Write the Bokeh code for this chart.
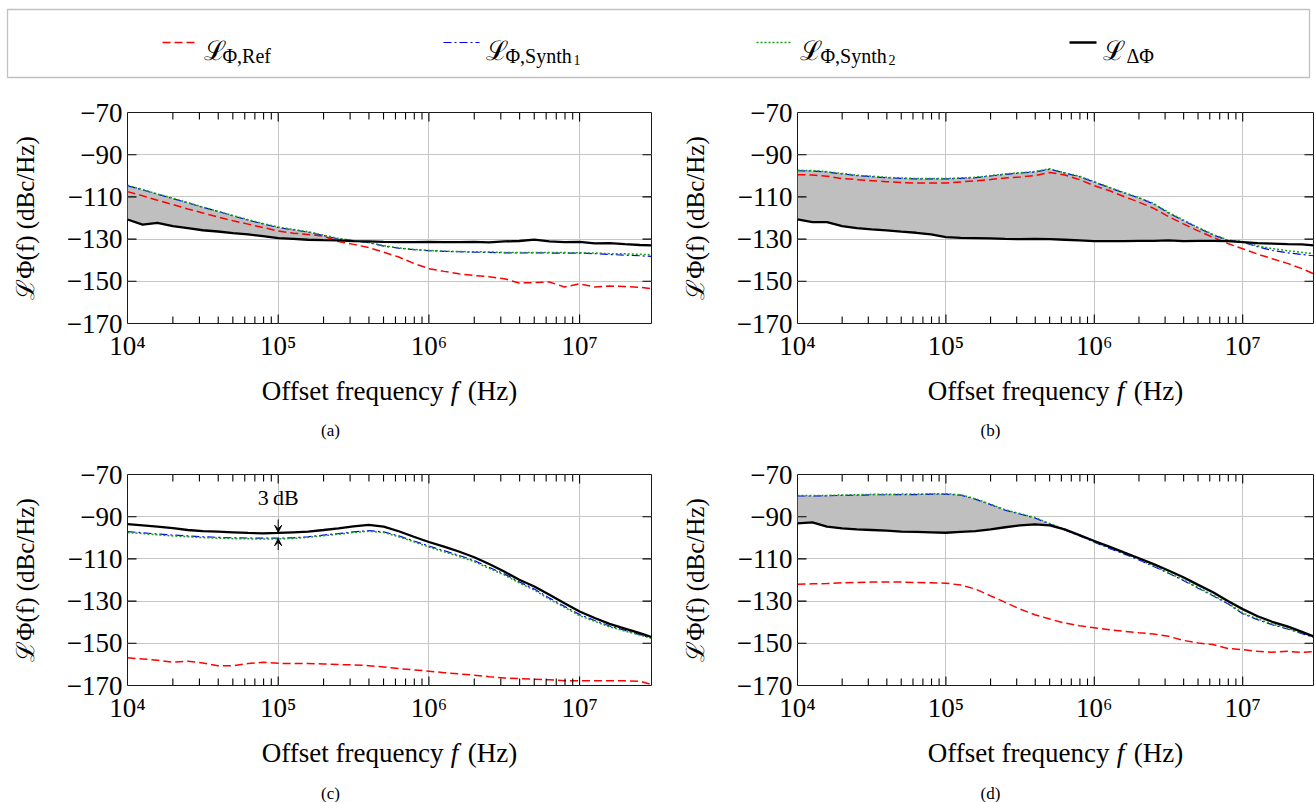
import numpy as np
from bokeh.plotting import figure
from bokeh.layouts import column, row
from bokeh.models import (Range1d, FixedTicker, CustomJSTickFormatter, Label, Arrow,
                          VeeHead, BoxAnnotation, ColumnDataSource)
from bokeh.embed import file_html
from bokeh.resources import INLINE

SERIF = "Liberation Serif"

# ---------------- data ----------------
F_HZ = [1.00e4, 1.26e4, 1.58e4, 2.00e4, 2.51e4, 3.16e4, 3.98e4, 5.01e4, 6.31e4, 7.94e4,
        1.00e5, 1.26e5, 1.58e5, 2.00e5, 2.51e5, 3.16e5, 3.98e5, 5.01e5, 6.31e5, 7.94e5,
        1.00e6, 1.26e6, 1.58e6, 2.00e6, 2.51e6, 3.16e6, 3.98e6, 5.01e6, 6.31e6, 7.94e6,
        1.00e7, 1.26e7, 1.58e7, 2.00e7, 2.51e7, 3.00e7]

A_REF = [-107.5, -109.5, -111.6, -113.6, -115.7, -117.6, -119.5, -121.3, -122.9, -124.5,
         -126.2, -127.2, -127.8, -128.6, -131.2, -132.5, -134.0, -136.2, -138.5, -141.5,
         -144.0, -145.3, -146.4, -147.3, -147.8, -148.8, -150.8, -150.6, -150.3, -152.7,
         -151.2, -152.7, -152.2, -152.5, -152.8, -153.5]
A_SYN1 = [-104.7, -106.7, -108.7, -110.8, -112.8, -114.9, -116.9, -119.0, -121.0, -122.8,
          -124.5, -125.6, -126.7, -128.3, -129.9, -130.8, -131.7, -133.3, -134.3, -135.0,
          -135.5, -135.8, -136.0, -136.2, -136.3, -136.5, -136.6, -136.5, -136.6, -136.6,
          -136.6, -136.9, -137.3, -137.6, -137.9, -138.2]
A_SYN2 = [-104.5, -106.5, -108.6, -110.6, -112.7, -114.8, -116.8, -118.8, -120.8, -122.6,
          -124.3, -125.4, -126.5, -128.1, -129.7, -130.7, -131.6, -133.1, -134.2, -134.9,
          -135.4, -135.7, -135.9, -136.0, -136.1, -136.3, -136.4, -136.3, -136.4, -136.4,
          -136.5, -136.6, -136.9, -137.0, -137.2, -137.4]
A_DELTA = [-120.7, -123.1, -122.3, -123.9, -124.8, -125.8, -126.4, -127.2, -127.8, -128.6,
           -129.5, -129.9, -130.3, -130.5, -130.6, -131.0, -131.1, -131.3, -131.4, -131.4,
           -131.3, -131.4, -131.4, -131.3, -131.6, -131.1, -130.9, -130.2, -131.1, -131.4,
           -131.3, -132.0, -131.9, -132.4, -132.8, -133.0]

B_REF = [-99.5, -99.6, -100.2, -101.3, -101.8, -102.3, -102.8, -103.2, -103.4, -103.4,
         -103.4, -102.9, -102.4, -101.8, -101.0, -100.6, -99.9, -98.4, -99.6, -101.8,
         -104.7, -107.0, -109.8, -112.5, -115.4, -119.3, -122.8, -126.1, -129.2, -132.1,
         -134.6, -137.1, -139.3, -141.5, -144.0, -146.4]
B_SYN1 = [-97.6, -97.7, -98.2, -99.1, -99.9, -100.4, -100.9, -101.2, -101.5, -101.5,
          -101.5, -101.2, -100.9, -100.1, -99.3, -98.7, -98.2, -96.9, -98.7, -100.4,
          -103.0, -105.6, -108.1, -110.5, -113.3, -117.6, -121.2, -124.7, -128.0, -130.6,
          -131.4, -133.6, -135.4, -136.5, -137.3, -137.9]
B_SYN2 = [-97.4, -97.5, -98.0, -98.9, -99.7, -100.2, -100.7, -101.0, -101.3, -101.3,
          -101.3, -101.0, -100.7, -99.9, -99.1, -98.5, -98.0, -96.6, -98.5, -100.2,
          -102.8, -105.4, -107.9, -110.3, -113.1, -117.3, -120.9, -124.5, -127.8, -130.4,
          -131.2, -133.2, -134.5, -135.5, -136.3, -136.9]
B_DELTA = [-120.7, -122.0, -122.0, -123.9, -124.8, -125.4, -125.9, -126.5, -127.0, -127.8,
           -129.1, -129.4, -129.5, -129.7, -129.9, -130.0, -129.9, -130.0, -130.3, -130.6,
           -131.0, -131.0, -131.0, -130.8, -130.8, -130.6, -131.0, -130.8, -130.8, -131.0,
           -131.4, -131.9, -132.1, -132.4, -132.5, -133.0]

C_REF = [-156.9, -157.4, -158.0, -159.0, -158.5, -159.3, -160.6, -160.6, -159.6, -159.0,
         -159.5, -159.6, -159.6, -159.8, -160.1, -160.2, -160.6, -161.2, -162.0, -162.6,
         -163.2, -163.9, -164.5, -165.1, -165.8, -166.4, -166.7, -167.0, -167.3, -167.7,
         -167.8, -167.8, -167.8, -167.8, -168.0, -169.5]
C_SYN1 = [-97.1, -97.6, -98.2, -98.7, -99.1, -99.5, -99.8, -100.0, -100.1, -100.2,
          -100.2, -100.0, -99.5, -98.7, -98.0, -97.2, -96.6, -97.2, -99.1, -101.5,
          -103.9, -106.1, -108.3, -110.8, -114.0, -117.1, -120.9, -124.3, -128.6, -132.5,
          -136.4, -139.2, -141.8, -143.9, -145.9, -147.5]
C_SYN2 = [-97.5, -98.0, -98.6, -99.1, -99.5, -99.9, -100.2, -100.4, -100.5, -100.6,
          -100.5, -100.3, -99.8, -99.0, -98.3, -97.5, -96.9, -97.5, -99.5, -101.9,
          -104.4, -106.6, -108.8, -111.3, -114.5, -117.6, -121.4, -124.8, -129.1, -133.0,
          -136.9, -139.6, -142.2, -144.2, -146.1, -147.6]
C_DELTA = [-93.5, -94.1, -94.7, -95.4, -96.3, -96.8, -97.1, -97.4, -97.7, -97.9,
           -97.7, -97.4, -97.1, -96.3, -95.5, -94.6, -93.9, -94.7, -96.9, -99.5,
           -102.0, -104.2, -106.5, -109.2, -112.4, -116.0, -119.9, -123.1, -127.0, -131.0,
           -134.9, -138.0, -140.8, -143.0, -145.2, -147.0]

D_REF = [-122.0, -121.8, -121.7, -121.3, -121.2, -121.0, -121.0, -121.0, -121.2, -121.3,
         -121.5, -122.4, -124.3, -127.5, -130.6, -133.8, -136.5, -138.5, -140.4, -141.7,
         -142.6, -143.6, -144.3, -145.0, -145.6, -146.7, -148.6, -149.9, -150.6, -152.5,
         -153.0, -153.8, -154.3, -153.8, -154.3, -153.9]
D_SYN1 = [-80.2, -80.2, -80.1, -79.9, -79.8, -79.6, -79.6, -79.5, -79.5, -79.3,
          -79.3, -79.8, -81.7, -84.3, -86.9, -88.7, -90.6, -93.5, -96.3, -99.0,
          -102.1, -105.0, -107.6, -110.5, -113.6, -116.8, -120.2, -123.9, -127.5, -131.3,
          -136.0, -138.8, -141.2, -143.2, -145.4, -147.2]
D_SYN2 = [-80.0, -80.0, -79.9, -79.7, -79.6, -79.4, -79.4, -79.3, -79.3, -79.1,
          -79.1, -79.6, -81.5, -84.1, -86.7, -88.5, -90.4, -93.2, -96.0, -98.7,
          -101.8, -104.7, -107.3, -110.2, -113.3, -116.5, -119.9, -123.6, -127.2, -131.0,
          -135.6, -138.4, -140.9, -142.9, -145.1, -146.9]
D_DELTA = [-93.2, -92.7, -94.7, -95.5, -96.0, -96.3, -96.6, -97.1, -97.2, -97.4,
           -97.6, -97.2, -96.8, -96.0, -95.0, -94.1, -93.6, -94.1, -96.0, -98.7,
           -101.5, -104.2, -106.9, -109.7, -112.5, -115.5, -118.7, -122.3, -125.8, -130.0,
           -133.8, -137.2, -139.8, -142.0, -144.6, -146.7]

X_RANGE = (1e4, 3e7)
Y_RANGE = (-170, -70)
Y_TICKS = [-170, -150, -130, -110, -90, -70]
X_TICKS = [1e4, 1e5, 1e6, 1e7]
X_MINOR = [2e4, 3e4, 4e4, 5e4, 6e4, 7e4, 8e4, 9e4,
           2e5, 3e5, 4e5, 5e5, 6e5, 7e5, 8e5, 9e5,
           2e6, 3e6, 4e6, 5e6, 6e6, 7e6, 8e6, 9e6]
CAPTIONS = ["(a)", "(b)", "(c)", "(d)"]
Y_LABEL = "\u2112\u03a6(f) (dBc/Hz)"

# "3 dB" annotation in panel (c)
ANNOT_F = 1e5
ANNOT_TEXT_Y = -86.6
ARROW_DOWN = (-91.3, -97.4)
ARROW_UP = (-105.8, -100.4)

RED, BLUE, GREEN, BLACK = "#ff0000", "#0000ff", "#1ba01b", "#000000"
FILL = "#bfbfbf"

SUP_CODE = """
const s = {'0':'\u2070','1':'\u00b9','2':'\u00b2','3':'\u00b3','4':'\u2074',
           '5':'\u2075','6':'\u2076','7':'\u2077','8':'\u2078','9':'\u2079'};
const e = Math.round(Math.log10(tick));
return '10' + String(e).split('').map(c => s[c]).join('');
"""
MINUS_CODE = """
return tick < 0 ? '\u2212' + Math.abs(tick) : String(tick);
"""

# Times-like advance widths (per 1000 em), used to lay out the x label runs
W_NORMAL = {' ': 250, 'O': 722, 'f': 333, 's': 389, 'e': 444, 't': 278, 'r': 333,
            'q': 500, 'u': 500, 'n': 500, 'c': 444, 'y': 500, '(': 333, ')': 333,
            'H': 722, 'z': 444}
W_ITALIC = {'f': 380}


def text_width(txt, size, style):
    table = W_ITALIC if style == "italic" else W_NORMAL
    return sum(table.get(ch, 500) for ch in txt) * size / 1000.0


def lab(p, text, x, y, size, style="normal", align="left", baseline="alphabetic"):
    p.add_layout(Label(x=x, y=y, text=text, text_font=SERIF,
                       text_font_size=f"{size}px", text_font_style=style,
                       text_color="black", text_align=align, text_baseline=baseline))


def blank_fig(w, h):
    f = figure(width=w, height=h, x_range=Range1d(0, w), y_range=Range1d(h, 0),
               output_backend="svg", toolbar_location=None, min_border=0,
               x_axis_location=None, y_axis_location=None)
    f.outline_line_color = None
    f.grid.visible = False
    f.background_fill_color = "white"
    f.border_fill_color = "white"
    return f


def style_axis(ax, standoff):
    ax.axis_line_color = None
    ax.major_tick_in = 0
    ax.major_tick_out = 0
    ax.minor_tick_in = 0
    ax.minor_tick_out = 0
    ax.major_label_text_font = SERIF
    ax.major_label_text_color = "black"
    ax.major_label_text_font_size = "27px"
    ax.major_label_standoff = standoff


def make_panel(ref, s1, s2, dl, left):
    width = 660 if left else 655
    mbl = 127 if left else 137
    mbr = 9 if left else 2
    fw = width - mbl - mbr
    fh = 211
    p = figure(width=width, height=278, x_axis_type="log",
               x_range=Range1d(*X_RANGE), y_range=Range1d(*Y_RANGE),
               output_backend="svg", toolbar_location=None,
               min_border_left=mbl, min_border_right=mbr,
               min_border_top=22, min_border_bottom=45)
    p.outline_line_color = "#1a1a1a"
    p.outline_line_width = 1
    p.background_fill_color = "white"
    p.border_fill_color = "white"

    xa = p.xaxis[0]
    xa.ticker = FixedTicker(ticks=X_TICKS, minor_ticks=[])
    xa.formatter = CustomJSTickFormatter(code=SUP_CODE)
    style_axis(xa, 7)
    ya = p.yaxis[0]
    ya.ticker = FixedTicker(ticks=Y_TICKS, minor_ticks=[])
    ya.formatter = CustomJSTickFormatter(code=MINUS_CODE)
    style_axis(ya, 5)
    ya.axis_label = Y_LABEL
    ya.axis_label_text_font = SERIF
    ya.axis_label_text_font_size = "25px"
    ya.axis_label_text_font_style = "normal"
    ya.axis_label_text_color = "black"
    ya.axis_label_standoff = 25

    p.xgrid.ticker = FixedTicker(ticks=X_TICKS)
    p.ygrid.ticker = FixedTicker(ticks=Y_TICKS)
    for g in (p.xgrid, p.ygrid):
        g.grid_line_color = "#c6c6c6"
        g.grid_line_width = 1

    src = ColumnDataSource(dict(f=F_HZ, ref=ref, s1=s1, s2=s2, dl=dl,
                                hi=np.maximum(np.array(s1), np.array(dl))))
    p.varea(x="f", y1="dl", y2="hi", source=src, fill_color=FILL)
    p.line(x="f", y="ref", source=src, line_color=RED, line_width=1.5, line_dash="8 4")
    p.line(x="f", y="s1", source=src, line_color=BLUE, line_width=1.2, line_dash="8 3 2 3")
    p.line(x="f", y="s2", source=src, line_color=GREEN, line_width=1.5, line_dash="2 2")
    p.line(x="f", y="dl", source=src, line_color=BLACK, line_width=2.3)

    # inward ticks (pgfplots style); lengths in pixels converted to data units
    ylo, yhi = Y_RANGE
    db_per_px = (yhi - ylo) / fh
    dec_per_px = float(np.log10(X_RANGE[1] / X_RANGE[0])) / fw
    t_min, t_maj = 7, 9
    n = len(X_MINOR)
    tick_src = ColumnDataSource(dict(
        x0=list(X_MINOR) * 2, x1=list(X_MINOR) * 2,
        y0=[float(ylo)] * n + [float(yhi)] * n,
        y1=[float(ylo + t_min * db_per_px)] * n + [float(yhi - t_min * db_per_px)] * n))
    p.segment(x0="x0", y0="y0", x1="x1", y1="y1", source=tick_src,
              line_color="black", line_width=1.1)
    xm = X_TICKS[1:]
    m = len(xm)
    maj_src = ColumnDataSource(dict(
        x0=list(xm) * 2, x1=list(xm) * 2,
        y0=[float(ylo)] * m + [float(yhi)] * m,
        y1=[float(ylo + t_maj * db_per_px)] * m + [float(yhi - t_maj * db_per_px)] * m))
    p.segment(x0="x0", y0="y0", x1="x1", y1="y1", source=maj_src,
              line_color="black", line_width=1.1)
    ym = Y_TICKS[1:-1]
    k = len(ym)
    fx = float(10 ** (t_maj * dec_per_px))
    y_src = ColumnDataSource(dict(
        x0=[X_RANGE[0]] * k + [X_RANGE[1]] * k,
        x1=[X_RANGE[0] * fx] * k + [X_RANGE[1] / fx] * k,
        y0=[float(v) for v in ym] * 2, y1=[float(v) for v in ym] * 2))
    p.segment(x0="x0", y0="y0", x1="x1", y1="y1", source=y_src,
              line_color="black", line_width=1.1)
    return p


def make_quadrant(idx, ref, s1, s2, dl, left, top):
    qw = 660 if left else 655
    below_h = 84 if top else 72
    panel = make_panel(ref, s1, s2, dl, left)

    # x label  "Offset frequency f (Hz)"  and the sub-figure caption
    below = blank_fig(qw, below_h)
    cx = 389 if left else 395
    sp = text_width(" ", 27, "normal")
    runs = [("Offset frequency", "normal"), ("f", "italic"), ("(Hz)", "normal")]
    total = sum(text_width(t, 27, s) for t, s in runs) + 2 * sp
    x0 = cx - total / 2
    for t, s in runs:
        lab(below, t, x0, 22, 27, style=s)
        x0 += text_width(t, 27, s) + sp
    lab(below, CAPTIONS[idx], 330, 62 if top else 63, 17, align="center", baseline="middle")

    # row() wrapper keeps the caption strip from being frame-aligned with the panel
    return column(row(panel), below), panel


qa, pa = make_quadrant(0, A_REF, A_SYN1, A_SYN2, A_DELTA, True, True)
qb, pb = make_quadrant(1, B_REF, B_SYN1, B_SYN2, B_DELTA, False, True)
qc, pc = make_quadrant(2, C_REF, C_SYN1, C_SYN2, C_DELTA, True, False)
qd, pd = make_quadrant(3, D_REF, D_SYN1, D_SYN2, D_DELTA, False, False)

# "3 dB" annotation on panel (c)
pc.add_layout(Label(x=ANNOT_F, y=ANNOT_TEXT_Y, text="3\u2009dB", text_font=SERIF,
                    text_font_size="22px", text_align="center", text_color="black"))
for y0, y1 in (ARROW_DOWN, ARROW_UP):
    pc.add_layout(Arrow(end=VeeHead(size=7, line_width=1, fill_color="black"),
                        x_start=ANNOT_F, y_start=y0, x_end=ANNOT_F, y_end=y1,
                        line_width=1, line_color="black"))

# ---------------- legend strip ----------------
leg = blank_fig(1315, 90)
leg.add_layout(BoxAnnotation(left=7, right=1309, top=9, bottom=77, fill_alpha=0,
                             line_color="#333333", line_width=1.3))

LEGEND_KEYS = [  # (key start, key end, colour, dash, width)
    (162, 195, RED, "8 4", 1.5),
    (443, 479, BLUE, "8 3 2 3", 1.2),
    (756, 791, GREEN, "2 2", 1.5),
    (1069, 1096, BLACK, "solid", 2.3),
]
for x1, x2, c, d, w in LEGEND_KEYS:
    leg.line(x=[x1, x2], y=[42, 42], line_color=c, line_dash=d, line_width=w)

LEGEND_TEXT = [  # (L x, subscript, sub x, second-level subscript, its x)
    (203, "\u03a6,Ref", 222, "", 0),
    (485, "\u03a6,Synth", 505, "1", 573),
    (799, "\u03a6,Synth", 820, "2", 888),
    (1102, "\u0394\u03a6", 1126, "", 0),
]
for lx, sub, sx, sub2, s2x in LEGEND_TEXT:
    lab(leg, "\u2112", lx, 50, 27)
    lab(leg, sub, sx, 55, 20)
    if sub2:
        lab(leg, sub2, s2x, 59, 14)

layout = column(leg, row(qa, qb), row(qc, qd))

with open("out.html", "w", encoding="utf-8") as fh:
    fh.write(file_html(layout, INLINE))
